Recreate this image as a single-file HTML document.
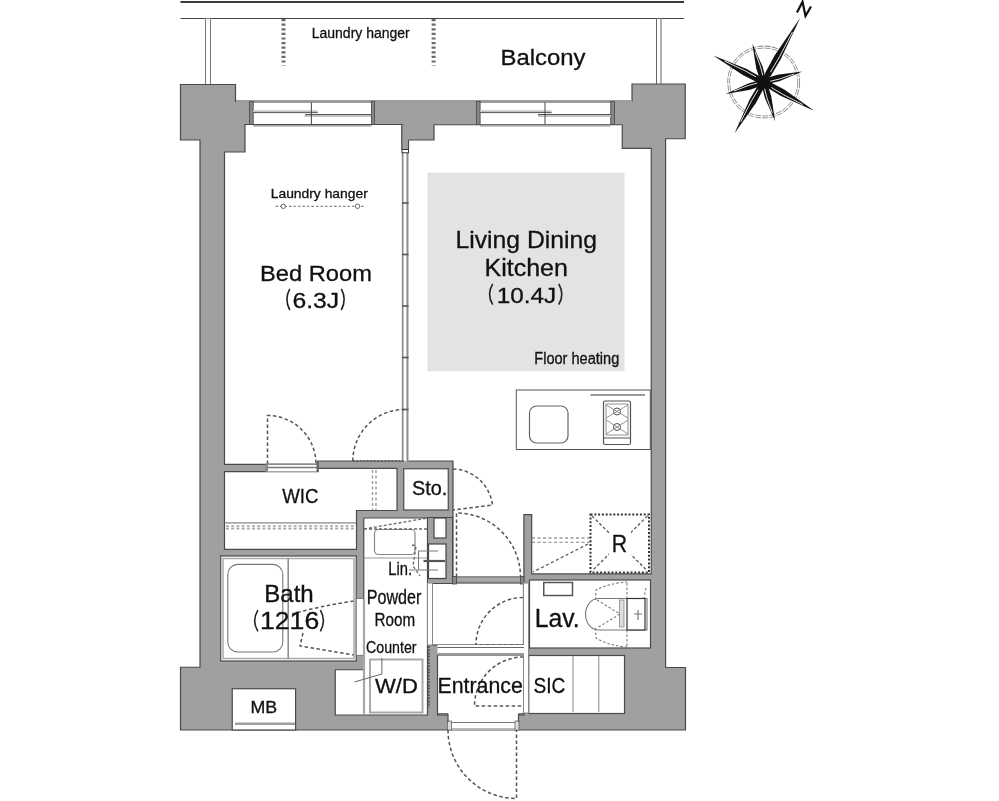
<!DOCTYPE html>
<html><head><meta charset="utf-8">
<style>
html,body{margin:0;padding:0;background:#fff;width:999px;height:801px;overflow:hidden}
svg{display:block;will-change:transform}
text{font-family:"Liberation Sans",sans-serif;fill:#111;stroke:#111;stroke-width:0.3px}
</style></head><body>
<svg width="999" height="801" viewBox="0 0 999 801">
<!-- balcony lines -->
<line x1="180.5" y1="2" x2="684" y2="2" stroke="#3a3a3a" stroke-width="2"/>
<line x1="180.5" y1="18.5" x2="684" y2="18.5" stroke="#444" stroke-width="1.2"/>
<rect x="205.5" y="18.5" width="5" height="66" fill="#fff" stroke="#777" stroke-width="1"/>
<rect x="656.5" y="18.5" width="4.5" height="66" fill="#fff" stroke="#666" stroke-width="1"/>

<!-- building footprint -->
<path id="fp" d="M180.5,84.5 H235.5 V101.5 H632 V84 H685.25 V138.75 H665.6 V667.5 H685.5 V730 H180.5 V667.25 H200 V140 H180.5 Z" fill="#a0a0a0" stroke="#4a4a4a" stroke-width="1.2"/>

<!-- windows -->
<rect x="253" y="101" width="118.5" height="23.5" fill="#fff"/>
<rect x="480" y="101" width="130.5" height="23.5" fill="#fff"/>
<g fill="#9c9c9c">
<rect x="236" y="100" width="396" height="3"/>
</g>
<g fill="#888" stroke="#444" stroke-width="0.8">
<rect x="249.6" y="101.5" width="3.6" height="23"/>
<rect x="371.4" y="101.5" width="3.2" height="23"/>
<rect x="476.5" y="101.5" width="3.6" height="23"/>
<rect x="610.8" y="101.5" width="3.8" height="23"/>
</g>
<g fill="#c4c4c4">
<rect x="253" y="110.3" width="64.5" height="2"/>
<rect x="304.5" y="115" width="66.5" height="2"/>
<rect x="480" y="110.3" width="71.5" height="2"/>
<rect x="538" y="115" width="73" height="2"/>
</g>
<g stroke="#555" stroke-width="1">
<line x1="253" y1="112.6" x2="317.7" y2="112.6"/>
<line x1="305" y1="114.5" x2="371" y2="114.5"/>
<line x1="480" y1="112.6" x2="551.6" y2="112.6"/>
<line x1="538" y1="114.5" x2="611" y2="114.5"/>
<line x1="311.4" y1="102.5" x2="311.4" y2="124" stroke="#444"/>
<line x1="545" y1="102.5" x2="545" y2="124" stroke="#444"/>
</g>

<!-- rooms white -->
<g fill="#fff" stroke="#4a4a4a" stroke-width="1.2">
<!-- bedroom -->
<path d="M245,124.5 H402.5 V461 H318 V464.4 H224.5 V152 H245 Z"/>
<!-- LDK -->
<path d="M434,124.75 H622.25 V148.4 H651.25 V573.9 H531.7 V514.7 H523.9 V577 H453 V461 H408 V140 H434 Z"/>
<!-- WIC -->
<path d="M224.5,471.6 H318 V468.4 H397 V510.5 H356.5 V549.4 H224.5 Z"/>
<!-- Sto -->
<rect x="403.75" y="468.75" width="44.5" height="41.25"/>
<!-- powder room -->
<path d="M363.75,518 H427.5 V715 H335.25 V669.75 H363.75 Z"/>
<!-- bath -->
<rect x="220.7" y="556" width="135.5" height="105"/>
<!-- corridor -->
<rect x="431.5" y="583" width="92" height="62"/>
<!-- entrance -->
<rect x="437.5" y="655" width="86.5" height="60"/>
<!-- lav -->
<rect x="529.5" y="580" width="121" height="68"/>
<!-- SIC -->
<rect x="528.75" y="655.5" width="95.75" height="58"/>
<!-- MB -->
<rect x="232.25" y="688.75" width="63.35" height="41.25"/>
</g>

<rect x="253" y="125" width="118.5" height="1.6" fill="#a8a8a8"/>
<rect x="480" y="125" width="130.5" height="1.6" fill="#a8a8a8"/>
<!-- LDK floor heating area -->
<rect x="427.5" y="172.6" width="197" height="198.7" fill="#e3e3e4"/>


<!-- partitions -->
<rect x="402" y="152.5" width="6.5" height="308.5" fill="#fff"/>
<line x1="402.75" y1="153" x2="402.75" y2="461" stroke="#8a8a8a" stroke-width="1.5"/>
<line x1="407.2" y1="153" x2="407.2" y2="461" stroke="#8a8a8a" stroke-width="1.5"/>
<line x1="402" y1="203" x2="408.5" y2="203" stroke="#555" stroke-width="1.6"/><line x1="402" y1="254.5" x2="408.5" y2="254.5" stroke="#555" stroke-width="1.6"/><line x1="402" y1="306" x2="408.5" y2="306" stroke="#555" stroke-width="1.6"/><line x1="402" y1="357.5" x2="408.5" y2="357.5" stroke="#555" stroke-width="1.6"/><line x1="402" y1="409.5" x2="408.5" y2="409.5" stroke="#555" stroke-width="1.6"/>
<rect x="401.8" y="124.5" width="6.7" height="25" fill="#a0a0a0"/>
<line x1="401.8" y1="124.5" x2="401.8" y2="149.5" stroke="#4a4a4a" stroke-width="1.2"/>
<line x1="408.5" y1="140" x2="408.5" y2="149.5" stroke="#4a4a4a" stroke-width="1.2"/>
<rect x="402" y="149.5" width="6.5" height="3.3" fill="#fff" stroke="#333" stroke-width="1"/>

<!-- balcony laundry dotted -->
<g stroke="#6a6a6a" stroke-width="4" stroke-dasharray="2.2,2.4">
<line x1="283.5" y1="19" x2="283.5" y2="65.5"/>
<line x1="433.6" y1="19" x2="433.6" y2="65.5"/>
</g>
<!-- bedroom laundry -->
<line x1="275.5" y1="206.3" x2="365.5" y2="206.3" stroke="#888" stroke-width="1.3" stroke-dasharray="2.5,2"/>
<circle cx="283.3" cy="206.3" r="2.2" fill="#fff" stroke="#666" stroke-width="1"/>
<circle cx="357.5" cy="206.3" r="2.2" fill="#fff" stroke="#666" stroke-width="1"/>

<!-- door swings -->
<g fill="none" stroke="#555" stroke-width="1.5" stroke-dasharray="3.5,2.5">
<path d="M267.5,464 V415.5 A48.5,48.5 0 0 1 316,464"/>
<path d="M352.8,461 A51.5,51.5 0 0 1 404.3,409.5"/>
<path d="M453,469 A41,41 0 0 1 492.5,505 L453,510"/>
<path d="M456.5,577 V513 A64,64 0 0 1 520.5,577"/>
<path d="M523,597.5 A47,47 0 0 0 476,645 H523"/>
<path d="M523.5,657 A49,49 0 0 0 474.5,706 H523.5"/>
<path d="M448,730 A68.5,68.5 0 0 0 516.5,798.5 V730"/>
<path d="M354,601 Q320,606 292,614"/>
<path d="M303,633 L300,646 L354,655"/>


</g>
<line x1="352.8" y1="461" x2="404" y2="461" stroke="#555" stroke-width="1.3" stroke-dasharray="2,1.5"/>

<g fill="none" stroke="#9a9a9a" stroke-width="1.4" stroke-dasharray="3,2.5">
<line x1="532" y1="538" x2="590" y2="538"/>
<line x1="532" y1="542.4" x2="590" y2="542.4"/>
<line x1="372.5" y1="470" x2="372.5" y2="510"/>
<line x1="376" y1="470" x2="376" y2="510"/>
</g>
<!-- bedroom door leaf -->
<rect x="266.3" y="464" width="52" height="7.5" fill="#fff"/>
<line x1="266.3" y1="464.2" x2="318.4" y2="464.2" stroke="#555" stroke-width="1"/>
<line x1="266.3" y1="467.5" x2="318.4" y2="467.5" stroke="#777" stroke-width="1.4"/>
<rect x="265.5" y="463" width="2.5" height="9" fill="#888"/>
<rect x="316.5" y="461" width="2.5" height="11" fill="#666"/>

<!-- WIC rail -->
<line x1="225" y1="522.8" x2="356" y2="522.8" stroke="#aaa" stroke-width="1.8"/>
<line x1="226" y1="527.3" x2="356" y2="527.3" stroke="#a8a8a8" stroke-width="4.2" stroke-dasharray="3,2.2"/><line x1="225" y1="527.3" x2="356" y2="527.3" stroke="#fff" stroke-width="0.8"/>

<!-- kitchen -->
<rect x="516.3" y="390" width="134" height="59.5" fill="#fff" stroke="#555" stroke-width="1"/>
<rect x="529.5" y="406" width="38.5" height="37" rx="7" fill="#fff" stroke="#666" stroke-width="1.2"/>
<line x1="590.5" y1="395" x2="645" y2="395" stroke="#777" stroke-width="1.5"/>
<rect x="603.5" y="401" width="27" height="43.5" rx="1.5" fill="#fff" stroke="#555" stroke-width="1.2"/>
<line x1="603.5" y1="438" x2="630.5" y2="438" stroke="#555" stroke-width="1"/>
<rect x="606" y="404" width="22" height="31" fill="none" stroke="#777" stroke-width="0.8"/>
<circle cx="617" cy="411.5" r="3.5" fill="none" stroke="#555" stroke-width="1"/>
<circle cx="617" cy="427" r="3.5" fill="none" stroke="#555" stroke-width="1"/>
<path d="M606,405 L628,418 M628,405 L606,418 M606,420 L628,434 M628,420 L606,434" stroke="#777" stroke-width="0.8"/>

<!-- R box -->
<rect x="590.5" y="514.5" width="58.5" height="58" fill="#fff" stroke="#333" stroke-width="2" stroke-dasharray="2,1.8"/>
<path d="M592,516 L647.5,571 M647.5,516 L592,571" stroke="#555" stroke-width="1.3" stroke-dasharray="3,2.2"/>
<rect x="609" y="531" width="22" height="25" fill="#fff"/>
<path d="M588,544 L533,572" fill="none" stroke="#5a5a5a" stroke-width="1.3" stroke-dasharray="3,2.5"/>

<!-- bath -->
<rect x="223" y="558.5" width="131" height="100" fill="none" stroke="#aaa" stroke-width="1.5"/>
<line x1="288.2" y1="558" x2="288.2" y2="659" stroke="#888" stroke-width="1.5"/>
<rect x="227.8" y="564.4" width="55" height="87.6" rx="10" fill="none" stroke="#777" stroke-width="1.1"/>
<!-- bath door -->
<rect x="356.2" y="598.4" width="7.5" height="57" fill="#fff" stroke="#777" stroke-width="1"/>

<!-- powder room sink & lin -->
<rect x="374.5" y="529.5" width="40.5" height="25" rx="4" fill="#fff" stroke="#888" stroke-width="1.2"/>
<line x1="364" y1="558" x2="427" y2="558" stroke="#999" stroke-width="1"/>
<rect x="427.5" y="517.5" width="25" height="66" fill="#a0a0a0" stroke="#4a4a4a" stroke-width="1"/>
<rect x="434" y="518" width="12" height="20" fill="#fff" stroke="#444" stroke-width="1.2"/>
<rect x="428.5" y="544" width="17.5" height="34.5" fill="#fff" stroke="#444" stroke-width="1.2"/>
<line x1="423.5" y1="561" x2="445" y2="561" stroke="#555" stroke-width="2.2"/>
<g stroke="#777" stroke-width="1"><line x1="418" y1="551" x2="438" y2="551"/><line x1="409" y1="570" x2="438" y2="570"/><line x1="418.5" y1="551" x2="418.5" y2="570"/></g>
<g fill="none" stroke="#666" stroke-width="1.3" stroke-dasharray="3,2"><path d="M364,529 H427.5 M364,529 L427.5,518"/><path d="M412,545 L416,546 L413,566 L420,576"/></g>
<!-- floor step top of corridor -->
<rect x="453" y="577" width="71" height="5.3" fill="#a8a8a8" stroke="#777" stroke-width="1"/>
<rect x="452.5" y="576.5" width="4" height="7.5" fill="#888" stroke="#444" stroke-width="0.8"/>
<rect x="520.5" y="576.5" width="3.5" height="7.5" fill="#888" stroke="#444" stroke-width="0.8"/>
<!-- corridor side thin walls -->
<rect x="427.5" y="583" width="5" height="62" fill="#fff" stroke="#888" stroke-width="1"/>
<rect x="523.5" y="583" width="5" height="130" fill="#fff" stroke="#888" stroke-width="1"/>
<!-- entrance step -->
<rect x="437.5" y="645" width="86.5" height="10" fill="#fff"/>
<line x1="437.5" y1="647.5" x2="524" y2="647.5" stroke="#666" stroke-width="1"/>
<line x1="437.5" y1="654" x2="524" y2="654" stroke="#999" stroke-width="2"/>
<!-- entrance door -->
<rect x="448" y="713" width="70.5" height="17" fill="#fff"/>
<rect x="448.5" y="722.5" width="70" height="6.5" fill="#fff" stroke="#777" stroke-width="1"/>
<rect x="447.5" y="721" width="4" height="9" fill="#ddd" stroke="#666" stroke-width="0.8"/>
<rect x="515" y="721" width="4" height="9" fill="#ddd" stroke="#666" stroke-width="0.8"/>
<line x1="437.5" y1="713.8" x2="448" y2="713.8" stroke="#4a4a4a" stroke-width="1.2"/>
<line x1="448" y1="713.8" x2="448" y2="722" stroke="#4a4a4a" stroke-width="1.2"/>
<line x1="518.5" y1="713.8" x2="524" y2="713.8" stroke="#4a4a4a" stroke-width="1.2"/>
<line x1="518.5" y1="713.8" x2="518.5" y2="722" stroke="#4a4a4a" stroke-width="1.2"/>

<!-- W/D and counter -->
<line x1="364" y1="600" x2="364" y2="715" stroke="#a8a8a8" stroke-width="2.2"/>
<rect x="370" y="659.5" width="52.5" height="53" fill="none" stroke="#aaa" stroke-width="2"/>
<path d="M381.9,658 V674 L354.5,682" fill="none" stroke="#666" stroke-width="1"/>
<line x1="428.8" y1="646" x2="428.8" y2="707.5" stroke="#555" stroke-width="1.8" stroke-dasharray="2,1.2"/>

<!-- SIC lines -->
<line x1="573" y1="656" x2="573" y2="712" stroke="#888" stroke-width="1"/>
<line x1="598.8" y1="656" x2="598.8" y2="712" stroke="#888" stroke-width="1"/>

<!-- lav -->
<rect x="543.75" y="582.5" width="28.75" height="13" fill="#fff" stroke="#555" stroke-width="1.5"/>
<path d="M598.5,598.5 H647 V630 H598.5 A13,15.75 0 0 1 598.5,598.5 Z" fill="#fff" stroke="#777" stroke-width="1.1"/>
<rect x="619.5" y="600" width="4.5" height="27" fill="#ddd" stroke="#888" stroke-width="0.8"/>
<rect x="627" y="598.5" width="18" height="31.5" fill="#fff" stroke="#333" stroke-width="1.2"/>
<path d="M634,614 H642 M638,610 V620" stroke="#777" stroke-width="1.2"/>
<g fill="none" stroke="#777" stroke-width="1.1" stroke-dasharray="2.5,2">
<path d="M595.5,600 L596,590 Q610,583 627,582"/>
<path d="M597,600 L620,614 L597,628"/>
<path d="M595.5,628 L596,638 Q610,646 627,647"/>
<path d="M627,583 V598 M627,630 V646"/>
<path d="M646,588 L644,598"/>
</g>

<!-- MB inner band -->
<rect x="235" y="722.5" width="60" height="2.5" fill="#a0a0a0"/>

<!-- compass -->
<g transform="translate(763.7,82)">
<circle r="35" fill="none" stroke="#8a8a8a" stroke-width="2.8" stroke-dasharray="6,1.2"/>
<circle r="35" fill="none" stroke="#fff" stroke-width="1.1"/>
<g transform="rotate(29.6)"><path d="M0,0 L3.24,-8.9 L3.6,-28.1 L0,-74 L-3.6,-28.1 L-3.24,-8.9 Z" fill="#111"/><path d="M1.0,-11.8 L1.3,-29.6 L0.3,-57.7" fill="none" stroke="#fff" stroke-width="0.8"/></g>
<g transform="rotate(209.6)"><path d="M0,0 L3.24,-7.1 L3.6,-22.4 L0,-59 L-3.6,-22.4 L-3.24,-7.1 Z" fill="#111"/><path d="M1.0,-9.4 L1.3,-23.6 L0.3,-46.0" fill="none" stroke="#fff" stroke-width="0.8"/></g>
<g transform="rotate(297.7)"><path d="M0,0 L3.24,-6.8 L3.6,-21.7 L0,-57 L-3.6,-21.7 L-3.24,-6.8 Z" fill="#111"/><path d="M1.0,-9.1 L1.3,-22.8 L0.3,-44.5" fill="none" stroke="#fff" stroke-width="0.8"/></g>
<g transform="rotate(119.6)"><path d="M0,0 L3.24,-7.0 L3.6,-22.0 L0,-58 L-3.6,-22.0 L-3.24,-7.0 Z" fill="#111"/><path d="M1.0,-9.3 L1.3,-23.2 L0.3,-45.2" fill="none" stroke="#fff" stroke-width="0.8"/></g>
<g transform="rotate(-16.5)"><path d="M0,0 L2.97,-4.8 L3.3,-15.2 L0,-40 L-3.3,-15.2 L-2.97,-4.8 Z" fill="#111"/><path d="M1.0,-6.4 L1.3,-16.0 L0.3,-31.2" fill="none" stroke="#fff" stroke-width="0.8"/></g>
<g transform="rotate(74.7)"><path d="M0,0 L2.97,-4.8 L3.3,-15.2 L0,-40 L-3.3,-15.2 L-2.97,-4.8 Z" fill="#111"/><path d="M1.0,-6.4 L1.3,-16.0 L0.3,-31.2" fill="none" stroke="#fff" stroke-width="0.8"/></g>
<g transform="rotate(163.8)"><path d="M0,0 L2.97,-4.9 L3.3,-15.6 L0,-41 L-3.3,-15.6 L-2.97,-4.9 Z" fill="#111"/><path d="M1.0,-6.6 L1.3,-16.4 L0.3,-32.0" fill="none" stroke="#fff" stroke-width="0.8"/></g>
<g transform="rotate(252.4)"><path d="M0,0 L2.97,-4.8 L3.3,-15.2 L0,-40 L-3.3,-15.2 L-2.97,-4.8 Z" fill="#111"/><path d="M1.0,-6.4 L1.3,-16.0 L0.3,-31.2" fill="none" stroke="#fff" stroke-width="0.8"/></g>
<circle r="6.5" fill="#111"/>
</g>
<path d="M797,12.5 L802.5,1.8 L805.5,16 L811,6.5" fill="none" stroke="#111" stroke-width="2.2"/>
<!-- texts -->
<text x="311.75" y="37.5" font-size="15.02" textLength="98.02" lengthAdjust="spacingAndGlyphs">Laundry hanger</text>
<text x="500.50" y="65" font-size="22.16" textLength="85.06" lengthAdjust="spacingAndGlyphs">Balcony</text>
<text x="270.75" y="197.5" font-size="13.24" textLength="97.02" lengthAdjust="spacingAndGlyphs">Laundry hanger</text>
<text x="260.00" y="281" font-size="22.52" textLength="111.86" lengthAdjust="spacingAndGlyphs">Bed Room</text>
<text x="292.50" y="308.3" font-size="22.93" textLength="46.72" lengthAdjust="spacingAndGlyphs">6.3J</text>
<text x="455.50" y="248.4" font-size="24.16" textLength="141.60" lengthAdjust="spacingAndGlyphs">Living Dining</text>
<text x="484.50" y="276" font-size="23.59" textLength="83.41" lengthAdjust="spacingAndGlyphs">Kitchen</text>
<text x="496.75" y="302.9" font-size="22.72" textLength="59.48" lengthAdjust="spacingAndGlyphs">10.4J</text>
<text x="534.25" y="363.8" font-size="15.81" textLength="85.05" lengthAdjust="spacingAndGlyphs">Floor heating</text>
<text x="282.25" y="503.4" font-size="19.86" textLength="36.28" lengthAdjust="spacingAndGlyphs">WIC</text>
<text x="412.00" y="494.5" font-size="20.00" textLength="35.23" lengthAdjust="spacingAndGlyphs">Sto.</text>
<text x="388.25" y="574.7" font-size="17.80" textLength="23.77" lengthAdjust="spacingAndGlyphs">Lin.</text>
<text x="366.75" y="604" font-size="19.31" textLength="54.55" lengthAdjust="spacingAndGlyphs">Powder</text>
<text x="374.50" y="625.8" font-size="17.93" textLength="40.61" lengthAdjust="spacingAndGlyphs">Room</text>
<text x="366.00" y="653.1" font-size="16.93" textLength="50.52" lengthAdjust="spacingAndGlyphs">Counter</text>
<text x="375.00" y="693.1" font-size="19.45" textLength="42.80" lengthAdjust="spacingAndGlyphs">W/D</text>
<text x="264.25" y="601.6" font-size="23.03" textLength="49.50" lengthAdjust="spacingAndGlyphs">Bath</text>
<text x="260.00" y="629" font-size="23.22" textLength="59.19" lengthAdjust="spacingAndGlyphs">1216</text>
<text x="437.50" y="692.7" font-size="22.79" textLength="85.35" lengthAdjust="spacingAndGlyphs">Entrance</text>
<text x="533.50" y="692.7" font-size="22.43" textLength="31.84" lengthAdjust="spacingAndGlyphs">SIC</text>
<text x="534.75" y="626.7" font-size="24.94" textLength="44.94" lengthAdjust="spacingAndGlyphs">Lav.</text>
<text x="250.50" y="712.5" font-size="16.08" textLength="26.70" lengthAdjust="spacingAndGlyphs">MB</text>
<text x="611.75" y="552" font-size="23.93" textLength="15.32" lengthAdjust="spacingAndGlyphs">R</text>
<path d="M289.8,288.9 Q283.9,299.4 289.8,310.0" fill="none" stroke="#222" stroke-width="1.6"/>
<path d="M341.3,288.9 Q347.1,299.4 341.3,310.0" fill="none" stroke="#222" stroke-width="1.6"/>
<path d="M492.7,283.8 Q486.4,294.2 492.7,304.7" fill="none" stroke="#222" stroke-width="1.6"/>
<path d="M558.7,283.8 Q565.0,294.2 558.7,304.7" fill="none" stroke="#222" stroke-width="1.6"/>
<path d="M257.9,610.2 Q251.5,620.8 257.9,631.3" fill="none" stroke="#222" stroke-width="1.6"/>
<path d="M320.4,610.2 Q326.4,620.8 320.4,631.3" fill="none" stroke="#222" stroke-width="1.6"/>
</svg>
</body></html>
